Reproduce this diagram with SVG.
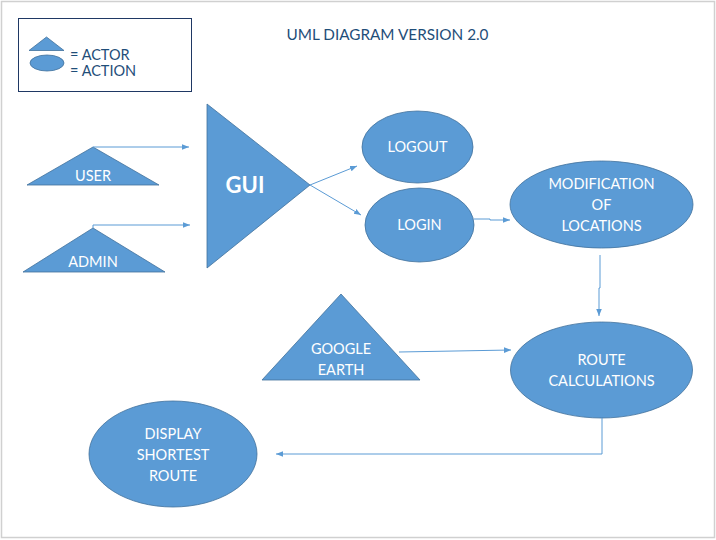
<svg xmlns="http://www.w3.org/2000/svg" width="716" height="540" viewBox="0 0 716 540">
<defs>
<style>
.shape{fill:#5B9BD5;stroke:#41719C;stroke-width:0.8}
.lbl{font-family:Lato,"Open Sans","Liberation Sans",sans-serif;font-size:14.5px;fill:#ffffff;text-anchor:middle}
.dark{font-family:Lato,"Open Sans","Liberation Sans",sans-serif;fill:#1F4E79}
.conn{fill:none;stroke:#5B9BD5;stroke-width:1}
</style>
<marker id="ah" viewBox="0 0 10 10" refX="10" refY="5" markerWidth="7" markerHeight="7" markerUnits="userSpaceOnUse" orient="auto">
<path d="M0,1 L10,5 L0,9 z" fill="#5B9BD5"/>
</marker>
</defs>
<rect x="0" y="0" width="716" height="540" fill="#ffffff"/>
<rect x="1.5" y="1.5" width="713" height="536" fill="none" stroke="#d0d0d0" stroke-width="1.5"/>
<g id="legend">
<rect x="18.5" y="18.5" width="173" height="73" fill="none" stroke="#1F3864" stroke-width="1"/>
<polygon class="shape" points="29,50.5 64,50.5 46.5,37"/>
<ellipse class="shape" cx="47" cy="63" rx="17" ry="8"/>
<text class="dark" x="70" y="60" font-size="14.5">= ACTOR</text>
<text class="dark" x="70" y="76" font-size="14.5">= ACTION</text>
</g>
<g id="title">
<text class="dark" x="387.5" y="40" font-size="15.3" text-anchor="middle">UML DIAGRAM VERSION 2.0</text>
</g>
<g id="user">
<polygon class="shape" points="27,185 159,185 93,147"/>
<text class="lbl" x="93" y="181">USER</text>
</g>
<g id="admin">
<polygon class="shape" points="23,272 165,272 93,228"/>
<text class="lbl" x="93" y="267">ADMIN</text>
</g>
<g id="gui">
<polygon class="shape" points="207,104 207,268 310,185"/>
<text x="245" y="193" font-family="Lato,'Open Sans','Liberation Sans',sans-serif" font-size="22" font-weight="bold" fill="#ffffff" text-anchor="middle">GUI</text>
</g>
<g id="logout">
<ellipse class="shape" cx="417.5" cy="147" rx="55.5" ry="36"/>
<text class="lbl" x="417.5" y="152">LOGOUT</text>
</g>
<g id="login">
<ellipse class="shape" cx="419.5" cy="225" rx="54.5" ry="37"/>
<text class="lbl" x="419.5" y="230">LOGIN</text>
</g>
<g id="modification">
<ellipse class="shape" cx="601.5" cy="204.5" rx="91.5" ry="43.5"/>
<text class="lbl" x="601.5" y="189">MODIFICATION</text>
<text class="lbl" x="601.5" y="210">OF</text>
<text class="lbl" x="601.5" y="231">LOCATIONS</text>
</g>
<g id="google-earth">
<polygon class="shape" points="262,380 420,380 341,294"/>
<text class="lbl" x="341" y="354">GOOGLE</text>
<text class="lbl" x="341" y="375">EARTH</text>
</g>
<g id="route">
<ellipse class="shape" cx="601.5" cy="370" rx="91" ry="48"/>
<text class="lbl" x="601.5" y="365">ROUTE</text>
<text class="lbl" x="601.5" y="386">CALCULATIONS</text>
</g>
<g id="display">
<ellipse class="shape" cx="173" cy="454" rx="84" ry="53"/>
<text class="lbl" x="173" y="439">DISPLAY</text>
<text class="lbl" x="173" y="460">SHORTEST</text>
<text class="lbl" x="173" y="481">ROUTE</text>
</g>
<g id="connectors">
<path class="conn" d="M93,147 H189" marker-end="url(#ah)"/>
<path class="conn" d="M93,228 V225 H190" marker-end="url(#ah)"/>
<path class="conn" d="M310,185 L357,166" marker-end="url(#ah)"/>
<path class="conn" d="M310,185 L361,215" marker-end="url(#ah)"/>
<path class="conn" d="M474,219 H490 V220 H510" marker-end="url(#ah)"/>
<path class="conn" d="M600,255 V288 H599 V316" marker-end="url(#ah)"/>
<path class="conn" d="M399,352 L511,350" marker-end="url(#ah)"/>
<path class="conn" d="M602,418 V454 H276" marker-end="url(#ah)"/>
</g>
</svg>
